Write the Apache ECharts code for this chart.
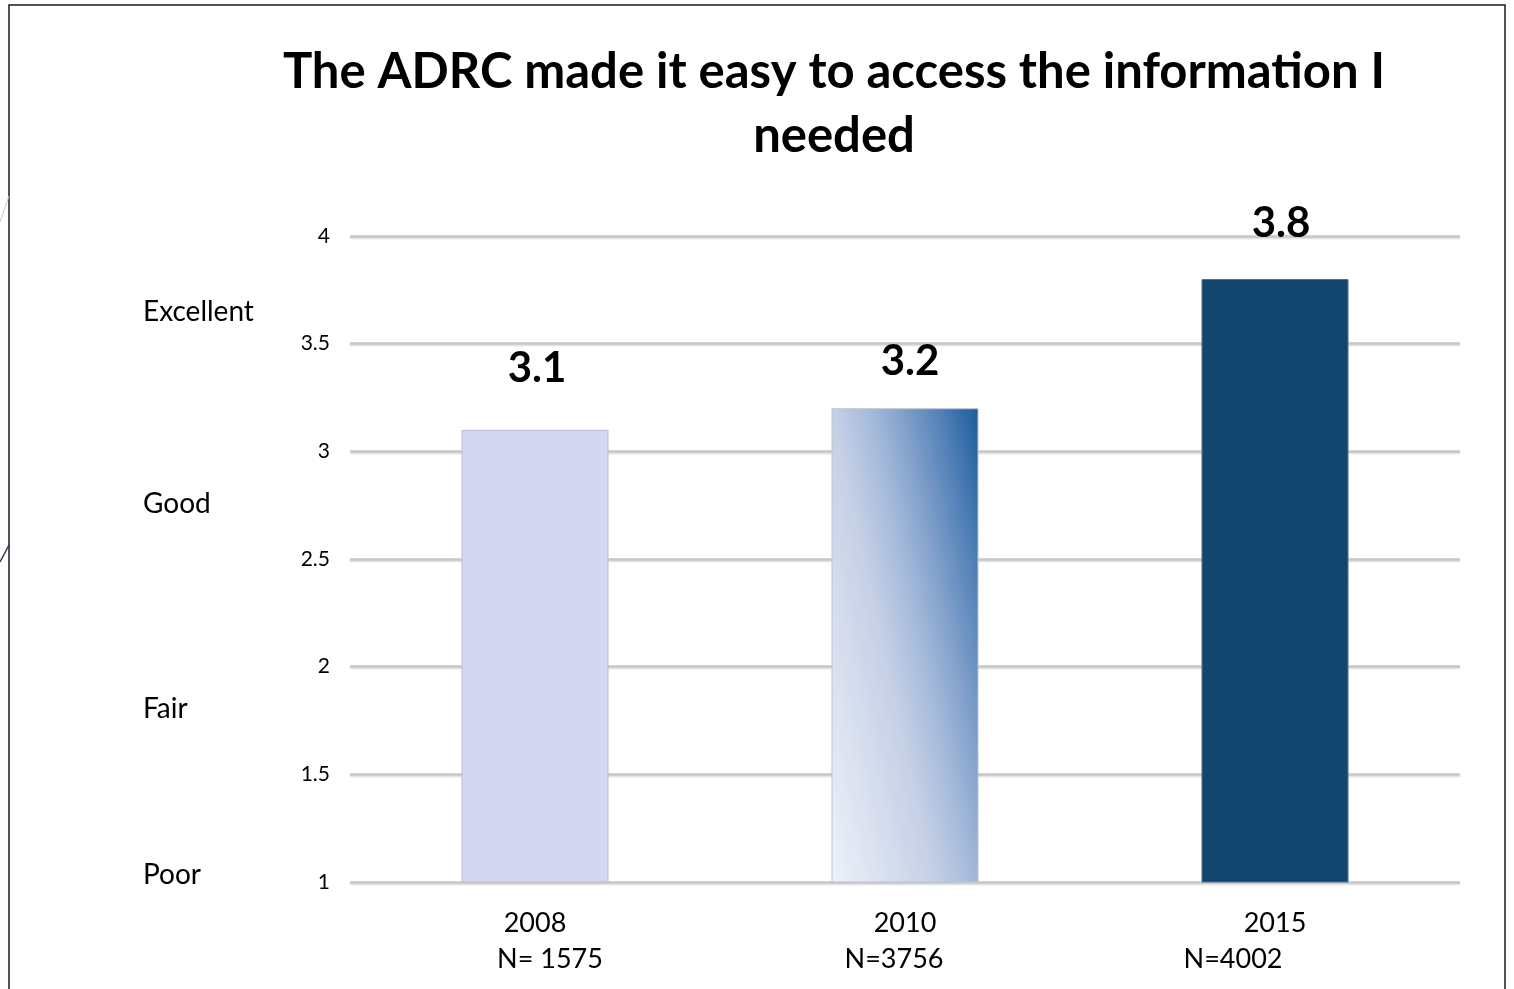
<!DOCTYPE html>
<html>
<head>
<meta charset="utf-8">
<title>ADRC information access</title>
<script src="https://cdn.jsdelivr.net/npm/echarts@6/dist/echarts.min.js"></script>
<style>
  html, body { margin: 0; padding: 0; background: #ffffff; }
  #chart { width: 1514px; height: 989px; }
</style>
</head>
<body>
<div id="chart"></div>
<script>
// Survey years and average ratings (1 = Poor ... 4 = Excellent)
const years = ['2008', '2010', '2015'];
const ratings = [3.1, 3.2, 3.8];
const sampleSizes = ['N= 1575', 'N=3756', 'N=4002'];
const scaleWords = ['Excellent', 'Good', 'Fair', 'Poor'];

const FONT = 'Lato, "Open Sans", sans-serif';
const BAR_W = 147;

// value label nudges per bar, in pixels
const labelNudge = [[2, -40], [5, -26], [6, -35]];

// shading stops for the middle bar: pale lower-left to deep blue upper-right
const shadeStops = [
  { offset: 0, color: '#EDF1F9' },
  { offset: 0.41, color: '#C6D0E6' },
  { offset: 0.56, color: '#A6BBDB' },
  { offset: 0.70, color: '#7F9FCA' },
  { offset: 0.85, color: '#4F7FB6' },
  { offset: 1, color: '#1A5C9C' }
];
const barFills = ['#D3D8F0', '#C2CEE5', '#13466F'];
const barBorders = ['#B9BDCC', '#BDC3CF', '#4E6E8E'];

// rating words beside the value axis, and sample sizes below the years
const wordPos = [312, 504, 709, 875];
const nPos = [550, 894, 1233];

const chart = echarts.init(document.getElementById('chart'), null, { renderer: 'canvas' });

const graphics = [
  { type: 'rect', shape: { x: 9, y: 5, width: 1496, height: 1000 },
    style: { fill: 'none', stroke: '#1a1a1a', lineWidth: 1.5 }, silent: true },
  { type: 'line', shape: { x1: 0, y1: 222, x2: 9, y2: 196 },
    style: { stroke: '#c9c9c9', lineWidth: 1 }, silent: true },
  { type: 'line', shape: { x1: 0, y1: 562, x2: 9, y2: 545 },
    style: { stroke: '#2a3550', lineWidth: 1.5 }, silent: true },
  { type: 'text', x: 834, y: 40,
    style: {
      text: 'The ADRC made it easy to access the information I\nneeded',
      font: 'bold 49px ' + FONT, fill: '#000', align: 'center', verticalAlign: 'top',
      lineHeight: 64
    } }
];
scaleWords.forEach((w, i) => {
  graphics.push({ type: 'text', x: 143, y: wordPos[i],
    style: { text: w, font: '28px ' + FONT, fill: '#000', verticalAlign: 'middle' } });
});
sampleSizes.forEach((s, i) => {
  graphics.push({ type: 'text', x: nPos[i], y: 959,
    style: { text: s, font: '27px ' + FONT, fill: '#000', align: 'center', verticalAlign: 'middle' } });
});

function barData(fills) {
  return ratings.map((v, i) => ({
    value: v,
    itemStyle: { color: fills[i], borderColor: barBorders[i], borderWidth: 1 },
    label: { offset: labelNudge[i] }
  }));
}

chart.setOption({
  animation: false,
  grid: { left: 350, right: 54, top: 236, bottom: 107, containLabel: false },
  xAxis: {
    type: 'category',
    data: years,
    axisLine: { show: false },
    axisTick: { show: false },
    axisLabel: { color: '#000', fontFamily: FONT, fontSize: 27, margin: 28 }
  },
  yAxis: {
    type: 'value',
    min: 1, max: 4, interval: 0.5,
    axisLine: { show: false },
    axisTick: { show: false },
    axisLabel: { color: '#000', fontFamily: FONT, fontSize: 21, margin: 20 },
    splitLine: {
      lineStyle: { color: '#C8C8C8', width: 2.5,
        shadowColor: 'rgba(0,0,0,0.18)', shadowBlur: 2, shadowOffsetY: 1 }
    }
  },
  series: [{
    type: 'bar',
    barWidth: BAR_W,
    data: barData(barFills),
    label: {
      show: true, position: 'top', distance: 0,
      color: '#000', fontFamily: FONT, fontWeight: 'bold', fontSize: 42,
      formatter: p => p.value.toFixed(1)
    }
  }],
  graphic: graphics
});

// Lay the middle bar's shading out in screen space, from its lower-left corner
// along a direction tilted slightly upward to the right.
const barTop = chart.convertToPixel({ seriesIndex: 0 }, [1, ratings[1]]);
const barBase = chart.convertToPixel({ seriesIndex: 0 }, [1, 1]);
const barH = barBase[1] - barTop[1];
const sx = barTop[0] - BAR_W / 2, sy = barBase[1];
const dirX = barH, dirY = -0.7 * BAR_W;
const dirLen = Math.hypot(dirX, dirY);
const ux = dirX / dirLen, uy = dirY / dirLen;
// reach of the upper-right corner along that direction
const span = (BAR_W * ux) + (-barH * uy);
const shaded = barFills.slice();
shaded[1] = {
  type: 'linear', global: true,
  x: sx, y: sy, x2: sx + span * ux, y2: sy + span * uy,
  colorStops: shadeStops
};
chart.setOption({ series: [{ data: barData(shaded) }] });
</script>
</body>
</html>
